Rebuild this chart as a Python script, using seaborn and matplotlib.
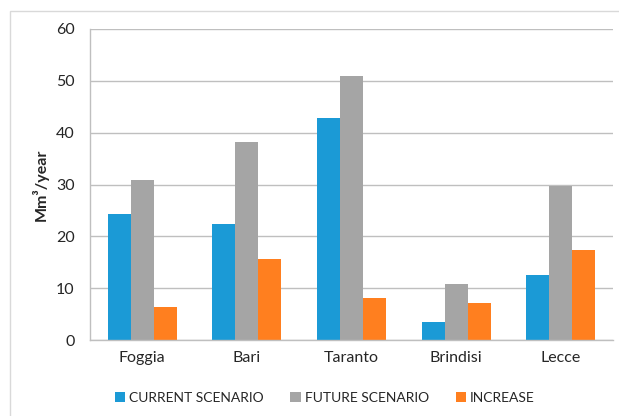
import matplotlib
matplotlib.use("Agg")
import matplotlib.pyplot as plt
import seaborn as sns
import pandas as pd
import numpy as np
from matplotlib.patches import Rectangle

provinces = ["Foggia", "Bari", "Taranto", "Brindisi", "Lecce"]
current = [24.4, 22.4, 42.9, 3.5, 12.5]
future = [30.9, 38.2, 51.0, 10.8, 29.8]
increase = [6.4, 15.7, 8.1, 7.2, 17.3]
series = ["CURRENT SCENARIO", "FUTURE SCENARIO", "INCREASE"]
colors = ["#1B9AD6", "#A5A5A5", "#FF7F1F"]

df = pd.DataFrame({
    "Province": provinces * 3,
    "Value": current + future + increase,
    "Series": [s for s in series for _ in provinces],
})

sns.set_theme(style="white")
plt.rcParams["font.family"] = ["Lato", "DejaVu Sans"]

fig = plt.figure(figsize=(6.19, 4.16), dpi=100)
ax = fig.add_axes([90/619, 1-340/416, (613-90)/619, (340-29)/416])

sns.barplot(data=df, x="Province", y="Value", hue="Series", palette=colors,
            width=0.66, gap=0, ax=ax, saturation=1, linewidth=0, edgecolor="none")

ax.set_xlim(-0.5, len(provinces) - 0.5)
ax.set_ylim(0, 60)
ax.set_yticks(np.arange(0, 61, 10))
ax.yaxis.grid(True, color="#BFBFBF", linewidth=1.0)
ax.set_axisbelow(True)
for s in ["top", "right"]:
    ax.spines[s].set_visible(False)
ax.spines["left"].set_color("#BFBFBF")
ax.spines["bottom"].set_color("#BFBFBF")
ax.spines["left"].set_linewidth(1.0)
ax.spines["bottom"].set_linewidth(1.0)

ax.set_xticks(np.arange(-0.5, len(provinces), 1.0), minor=True)
ax.tick_params(axis="x", which="minor", length=5, color="#BFBFBF", width=1, direction="out")
ax.tick_params(axis="x", which="major", length=0, labelsize=11.5, pad=8, colors="#262626")
ax.tick_params(axis="y", length=5, color="#BFBFBF", width=1, labelsize=11.5, pad=6, colors="#262626")
ax.set_xlabel("")
ax.set_ylabel("Mm³/year", fontsize=11.5, fontweight="bold", color="#262626", labelpad=5)

handles, labels = ax.get_legend_handles_labels()
ax.legend(handles, labels, loc="center", bbox_to_anchor=(0.449, -(398-340)/311),
          bbox_transform=ax.transAxes, ncol=3, frameon=False, fontsize=10,
          handlelength=0.75, handleheight=0.75, handletextpad=0.3, columnspacing=1.9,
          labelcolor="#262626")

fig.patches.append(Rectangle((10/619, -0.01), 1.0, 1-11/416+0.01, transform=fig.transFigure,
                             fill=False, edgecolor="#D9D9D9", linewidth=1.0))

fig.savefig("out.png", dpi=100)
